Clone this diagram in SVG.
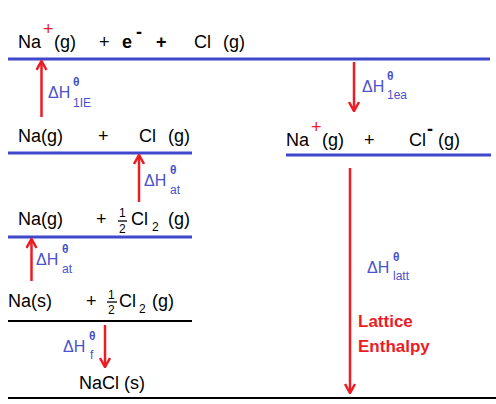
<svg xmlns="http://www.w3.org/2000/svg" width="496" height="404" viewBox="0 0 496 404">
<style>
.t{font-family:"Liberation Sans",Arial,sans-serif;font-size:18px;fill:#000}
.b{font-weight:bold}
.r{fill:#ed1c24}
.lbl{font-family:"Liberation Sans",Arial,sans-serif;font-size:16px;fill:#4a52cc}
.sub{font-family:"Liberation Sans",Arial,sans-serif;font-size:12px;fill:#4a52cc}
.th{font-family:"Liberation Sans",Arial,sans-serif;font-size:12px;font-weight:bold;fill:#4a52cc}
.fr{font-family:"Liberation Sans",Arial,sans-serif;font-size:12px;fill:#000}
.bl{stroke:#3f48cc;stroke-width:3}
.bk{stroke:#000;stroke-width:2}
.arr{stroke:#ed1c24;stroke-width:2.5;fill:none;marker-end:url(#ah)}
.lat{font-family:"Liberation Sans",Arial,sans-serif;font-size:17px;font-weight:bold;fill:#ed1c24}
</style>
<defs>
<marker id="ah" viewBox="0 0 12 12" refX="11" refY="6" markerWidth="12" markerHeight="12" orient="auto" markerUnits="userSpaceOnUse">
<path d="M2,1 L11,6 L2,11" fill="none" stroke="#ed1c24" stroke-width="2.5"/>
</marker>
</defs>
<rect width="496" height="404" fill="#fff"/>

<g id="level-ions-gas-electron">
<text class="t" x="18" y="48">Na</text>
<text class="t r" x="43" y="35">+</text>
<text class="t" x="54" y="48">(g)</text>
<text class="t" x="99" y="48">+</text>
<text class="t b" x="122" y="48">e</text>
<text class="t b" x="136" y="38">-</text>
<text class="t b" x="156" y="48">+</text>
<text class="t" x="194" y="48">Cl</text>
<text class="t" x="223" y="48">(g)</text>
<line class="bl" x1="8" y1="59" x2="490" y2="59"/>
</g>

<g id="level-atoms-gas">
<text class="t" x="18" y="142">Na(g)</text>
<text class="t" x="98" y="142">+</text>
<text class="t" x="139" y="142">Cl</text>
<text class="t" x="168" y="142">(g)</text>
<line class="bl" x1="8" y1="153" x2="192" y2="153"/>
</g>

<g id="level-ions-gas">
<text class="t" x="286" y="146">Na</text>
<text class="t r" x="311" y="133">+</text>
<text class="t" x="322" y="146">(g)</text>
<text class="t" x="364" y="146">+</text>
<text class="t" x="409" y="146">Cl</text>
<text class="t b" x="427" y="135">-</text>
<text class="t" x="438" y="146">(g)</text>
<line class="bl" x1="286" y1="155" x2="491" y2="155"/>
</g>

<g id="level-na-gas-cl2">
<text class="t" x="18" y="225">Na(g)</text>
<text class="t" x="96" y="225">+</text>
<text class="fr" x="119" y="217">1</text>
<line x1="118" y1="221" x2="127" y2="221" stroke="#000" stroke-width="1.3"/>
<text class="fr" x="119" y="233">2</text>
<text class="t" x="131" y="225">Cl</text>
<text class="fr" x="152" y="231">2</text>
<text class="t" x="168" y="225">(g)</text>
<line class="bl" x1="8" y1="237" x2="192" y2="237"/>
</g>

<g id="level-elements">
<text class="t" x="8" y="307">Na(s)</text>
<text class="t" x="86" y="307">+</text>
<text class="fr" x="108" y="299">1</text>
<line x1="107" y1="302" x2="117" y2="302" stroke="#000" stroke-width="1.3"/>
<text class="fr" x="108" y="314">2</text>
<text class="t" x="119" y="307">Cl</text>
<text class="fr" x="139" y="313">2</text>
<text class="t" x="152" y="307">(g)</text>
<line class="bk" x1="8" y1="321" x2="192" y2="321"/>
</g>

<g id="level-nacl">
<text class="t" x="79" y="389">NaCl (s)</text>
<line class="bk" x1="8" y1="398" x2="496" y2="398"/>
</g>

<g id="connectors">
<line class="arr" x1="41.5" y1="117" x2="41.5" y2="61"/>
<line class="arr" x1="354" y1="62" x2="354" y2="111"/>
<line class="arr" x1="139" y1="202" x2="139" y2="155"/>
<line class="arr" x1="31.5" y1="281" x2="31.5" y2="239"/>
<line class="arr" x1="105" y1="325" x2="105" y2="367"/>
<line class="arr" x1="350" y1="168" x2="350" y2="393"/>
</g>

<g id="labels">
<text class="lbl" x="48" y="98">ΔH</text>
<text class="th" x="73" y="86">θ</text>
<text class="sub" x="73" y="107">1IE</text>

<text class="lbl" x="362" y="92">ΔH</text>
<text class="th" x="387" y="80">θ</text>
<text class="sub" x="387" y="99">1ea</text>

<text class="lbl" x="144" y="186">ΔH</text>
<text class="th" x="170" y="174">θ</text>
<text class="sub" x="170" y="194">at</text>

<text class="lbl" x="36" y="265">ΔH</text>
<text class="th" x="62" y="253">θ</text>
<text class="sub" x="62" y="273">at</text>

<text class="lbl" x="63" y="352">ΔH</text>
<text class="th" x="89" y="340">θ</text>
<text class="sub" x="90" y="359">f</text>

<text class="lbl" x="367" y="273">ΔH</text>
<text class="th" x="393" y="261">θ</text>
<text class="sub" x="393" y="280">latt</text>

<text class="lat" x="358" y="327">Lattice</text>
<text class="lat" x="358" y="352">Enthalpy</text>
</g>
</svg>
